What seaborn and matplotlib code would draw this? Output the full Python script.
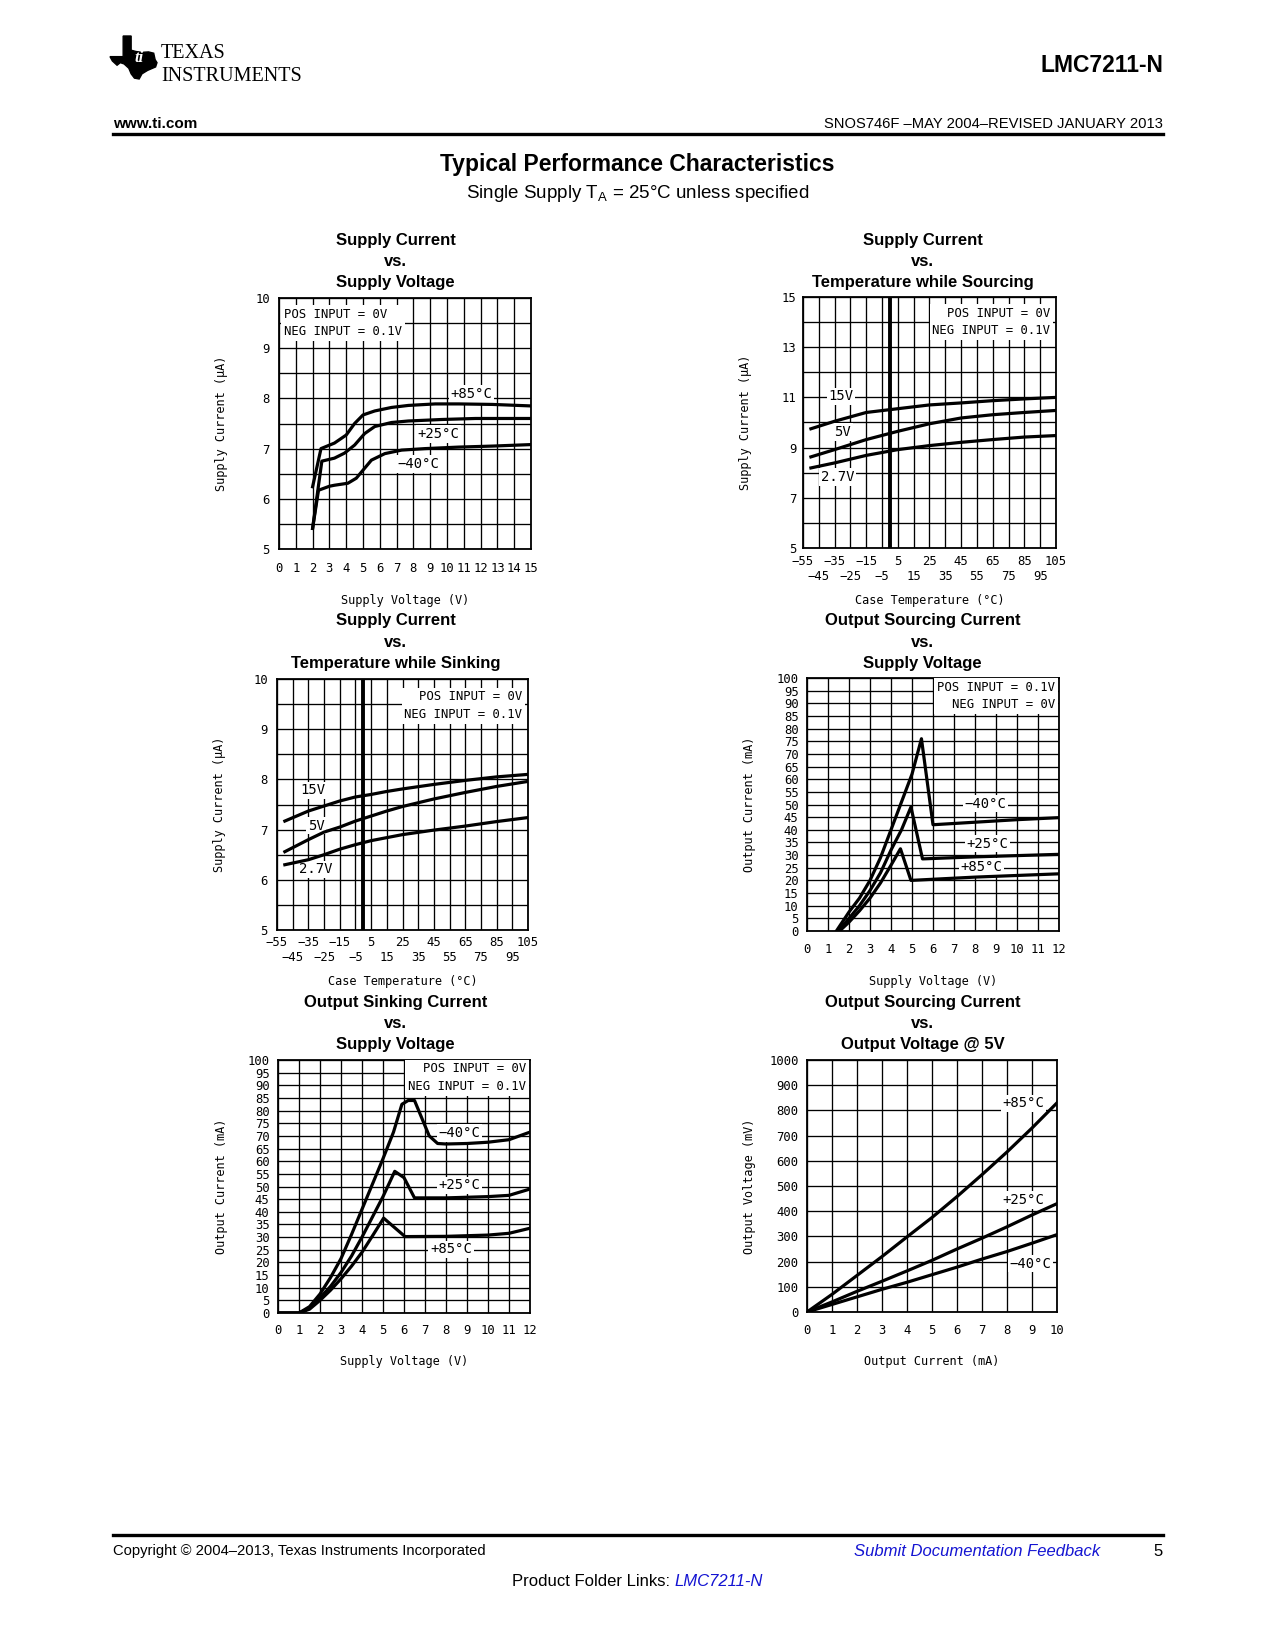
import matplotlib
matplotlib.use("Agg")
import matplotlib.pyplot as plt
import numpy as np
import pandas as pd
import seaborn as sns
from matplotlib.patches import Polygon
from matplotlib.lines import Line2D

W, H, DPI = 1275, 1650, 100
MONO = "DejaVu Sans Mono"
SANS = "Liberation Sans"

# ---------------- data ----------------
# Chart 1: Supply Current vs Supply Voltage
c1_v_p85 = [2.0, 2.5, 3.3, 4.0, 4.5, 5.0, 5.7, 6.7, 7.7, 9.3, 10.7, 12.7, 15.0]
c1_i_p85 = [6.24, 7.0, 7.11, 7.27, 7.5, 7.67, 7.75, 7.82, 7.86, 7.89, 7.89, 7.88, 7.85]
c1_v_p25 = [2.0, 2.55, 3.3, 3.9, 4.5, 5.1, 5.7, 6.7, 7.7, 9.7, 11.7, 15.0]
c1_i_p25 = [5.41, 6.75, 6.81, 6.91, 7.07, 7.3, 7.44, 7.52, 7.55, 7.58, 7.6, 7.6]
c1_v_m40 = [2.0, 2.35, 3.0, 3.3, 4.1, 4.6, 5.0, 5.5, 6.3, 7.3, 8.7, 10.7, 12.7, 15.0]
c1_i_m40 = [5.41, 6.17, 6.25, 6.27, 6.31, 6.41, 6.57, 6.77, 6.9, 6.97, 7.0, 7.03, 7.05, 7.08]

# Chart 2: Supply Current vs Temperature while Sourcing
c2_temp = [-50, -35, -15, 5, 25, 45, 65, 85, 105]
c2_15v = [9.75, 10.05, 10.4, 10.55, 10.7, 10.78, 10.87, 10.94, 11.0]
c2_5v = [8.63, 8.92, 9.32, 9.65, 9.95, 10.18, 10.31, 10.4, 10.48]
c2_27v = [8.19, 8.39, 8.69, 8.92, 9.08, 9.21, 9.32, 9.42, 9.48]

# Chart 3: Supply Current vs Temperature while Sinking
c3_temp = [-50, -35, -25, -15, -5, 5, 15, 25, 45, 65, 85, 105]
c3_15v = [7.17, 7.37, 7.47, 7.57, 7.65, 7.7, 7.76, 7.81, 7.9, 7.98, 8.05, 8.1]
c3_5v = [6.56, 6.8, 6.95, 7.05, 7.17, 7.27, 7.37, 7.46, 7.61, 7.74, 7.86, 7.96]
c3_27v = [6.3, 6.4, 6.5, 6.61, 6.7, 6.78, 6.84, 6.9, 6.99, 7.07, 7.16, 7.24]

# Chart 4: Output Sourcing Current vs Supply Voltage
c4_v_m40 = [1.4, 2.0, 2.5, 3.0, 3.5, 4.0, 4.5, 5.0, 5.45, 6.0, 8.0, 10.0, 12.0]
c4_i_m40 = [0, 7.5, 13, 20, 29, 40, 51, 62, 76, 42, 43, 44, 44.8]
c4_v_p25 = [1.5, 2.0, 2.5, 3.0, 3.5, 4.0, 4.5, 4.95, 5.5, 8.0, 10.0, 12.0]
c4_i_p25 = [0, 5, 10, 16, 23, 32, 40, 49, 28.5, 29.3, 29.8, 30.3]
c4_v_p85 = [1.55, 2.0, 2.5, 3.0, 3.5, 4.0, 4.45, 4.95, 8.0, 12.0]
c4_i_p85 = [0, 3.5, 8, 13, 19, 26, 32.5, 20, 21.3, 22.6]

# Chart 5: Output Sinking Current vs Supply Voltage
c5_v_m40 = [0, 1.0, 1.5, 2.0, 2.5, 3.0, 3.5, 4.0, 4.5, 5.0, 5.5, 5.9, 6.2, 6.5, 6.8, 7.2, 7.6, 8.0, 9.0, 10.0, 11.0, 12.0]
c5_i_m40 = [0, 0, 2.5, 7.5, 14, 21.5, 31, 41, 51, 61, 71.5, 82.5, 84, 84, 78, 70, 67, 66.8, 67, 67.5, 68.5, 71.5]
c5_v_p25 = [0, 1.0, 1.5, 2.0, 2.5, 3.0, 3.5, 4.0, 4.5, 5.0, 5.56, 6.0, 6.5, 8.0, 10.0, 11.0, 12.0]
c5_i_p25 = [0, 0, 2, 6, 10.5, 16, 22.5, 30, 38, 46, 56, 53.5, 45.5, 45.5, 46, 46.5, 49]
c5_v_p85 = [0, 1.0, 1.5, 2.0, 2.5, 3.0, 3.5, 4.0, 4.5, 5.03, 6.05, 8.0, 10.0, 11.0, 12.0]
c5_i_p85 = [0, 0, 1.5, 5, 9, 13.5, 18.5, 24, 30.5, 37.5, 30.2, 30.3, 30.8, 31.5, 33.5]

# Chart 6: Output Sourcing Current vs Output Voltage @ 5V
c6_ma = [0, 1, 2, 3, 4, 5, 6, 7, 8, 9, 10]
c6_mv_p85 = [0, 70, 145, 220, 298, 375, 458, 545, 635, 730, 830]
c6_mv_p25 = [0, 40, 82, 122, 163, 205, 250, 293, 338, 385, 430]
c6_mv_m40 = [0, 30, 60, 90, 118, 148, 178, 210, 240, 273, 307]

temp_row1 = [-55, -35, -15, 5, 25, 45, 65, 85, 105]
temp_row2 = [-45, -25, -5, 15, 35, 55, 75, 95]

# ---------------- figure ----------------
plt.rcParams["font.family"] = [SANS, "DejaVu Sans"]
fig = plt.figure(figsize=(W / DPI, H / DPI), dpi=DPI)
fig.patch.set_facecolor("white")

TICK = 8.8
AXL = 8.6


def ftext(x, y, s, **kw):
    return fig.text(x / W, 1 - y / H, s, **kw)


def hrule(x0, x1, y, lw):
    fig.add_artist(Line2D([x0 / W, x1 / W], [1 - y / H, 1 - y / H],
                          transform=fig.transFigure, color="black", lw=lw))


def make_axes(box):
    l, t, r, b = box
    return fig.add_axes([l / W, 1 - b / H, (r - l) / W, (b - t) / H])


def to_axes(box, px, py):
    l, t, r, b = box
    return (px - l) / (r - l), (b - py) / (b - t)


def neg(v):
    return str(v).replace("-", "\u2212")


def style(ax, xlim, ylim, xgrid, ygrid, xticks, yticks, xpad, ypad):
    ax.set_xlim(*xlim)
    ax.set_ylim(*ylim)
    if xgrid is not None:
        ax.set_xticks(xgrid, minor=True)
    ax.set_yticks(ygrid, minor=True)
    ax.set_xticks(xticks, labels=[neg(v) for v in xticks])
    ax.set_yticks(yticks, labels=[neg(v) for v in yticks])
    ax.grid(True, which="both", color="black", lw=0.95)
    ax.set_axisbelow(True)
    ax.tick_params(which="both", length=0, colors="black", labelsize=TICK,
                   labelfontfamily=MONO)
    ax.tick_params(axis="x", which="major", pad=xpad)
    ax.tick_params(axis="y", pad=ypad)
    for sp in ax.spines.values():
        sp.set_linewidth(1.3)
        sp.set_color("black")


def temp_axis(ax, pad1, pad2):
    ax.set_xticks(temp_row2, labels=[neg(v) for v in temp_row2], minor=True)
    ax.tick_params(axis="x", which="major", pad=pad1)
    ax.tick_params(axis="x", which="minor", pad=pad2, labelsize=TICK,
                   labelfontfamily=MONO, length=0)


def curve(ax, x, y):
    df = pd.DataFrame({"x": x, "y": y})
    sns.lineplot(data=df, x="x", y="y", ax=ax, color="black", lw=2.3,
                 sort=False, estimator=None, zorder=4)


def label(ax, x, y, s, ha="center", size=10):
    ax.text(x, y, s, ha=ha, va="center", fontfamily=MONO, fontsize=size,
            color="black", zorder=3,
            bbox=dict(facecolor="white", edgecolor="none", pad=1.2))


def legend_box(ax, x, y, s, ha):
    ax.text(x, y, s, ha=ha, va="center", multialignment=ha, linespacing=1.45,
            fontfamily=MONO, fontsize=8.8, color="black", zorder=3,
            bbox=dict(facecolor="white", edgecolor="none", pad=2.0))


def axis_labels(ax, box, xl, xy, yl, yx):
    l, t, r, b = box
    ax.set_xlabel(xl, fontfamily=MONO, fontsize=AXL, color="black")
    ax.xaxis.set_label_coords(*to_axes(box, (l + r) / 2, xy))
    ax.xaxis.label.set_va("center")
    ax.set_ylabel(yl, fontfamily=MONO, fontsize=AXL, color="black")
    ax.yaxis.set_label_coords(*to_axes(box, yx, (t + b) / 2))
    ax.yaxis.label.set_va("center")


def title(cx, ys, lines):
    for y, s in zip(ys, lines):
        ftext(cx, y, s, ha="center", va="center", fontsize=12,
              fontweight="bold", family=SANS)


LX, RX = 395.7, 922.5
TOPT = (240.5, 261.5, 283)
MIDT = (621, 642, 663.5)
BOTT = (1002, 1023.5, 1045)

# ---- Chart 1 ----
box1 = (279, 298, 531, 549)
ax1 = make_axes(box1)
style(ax1, (0, 15), (5, 10), np.arange(0, 16, 1), np.arange(5, 10.01, 0.5),
      list(range(16)), list(range(5, 11)), 9, 6.5)
curve(ax1, c1_v_p85, c1_i_p85)
curve(ax1, c1_v_p25, c1_i_p25)
curve(ax1, c1_v_m40, c1_i_m40)
label(ax1, 11.45, 8.09, "+85°C")
label(ax1, 9.5, 7.29, "+25°C")
label(ax1, 8.3, 6.69, "\u221240°C")
legend_box(ax1, 0.3, 9.5, "POS INPUT = 0V\nNEG INPUT = 0.1V", "left")
axis_labels(ax1, box1, "Supply Voltage (V)", 600.5, "Supply Current (\u03bcA)", 222)
title(LX, TOPT, ("Supply Current", "vs.", "Supply Voltage"))

# ---- Chart 2 ----
box2 = (803, 297, 1056, 548)
ax2 = make_axes(box2)
style(ax2, (-55, 105), (5, 15), None, np.arange(5, 15.01, 1),
      temp_row1, [5, 7, 9, 11, 13, 15], 6, 4.5)
temp_axis(ax2, 5.0, 15.5)
ax2.axvline(0, color="black", lw=2.8, zorder=2.5)
curve(ax2, c2_temp, c2_15v)
curve(ax2, c2_temp, c2_5v)
curve(ax2, c2_temp, c2_27v)
label(ax2, -31, 11.04, "15V")
label(ax2, -30, 9.62, "5V")
label(ax2, -33, 7.83, "2.7V")
legend_box(ax2, 101.5, 14.0, "POS INPUT = 0V\nNEG INPUT = 0.1V", "right")
axis_labels(ax2, box2, "Case Temperature (°C)", 600.5, "Supply Current (\u03bcA)", 746)
title(RX, TOPT, ("Supply Current", "vs.", "Temperature while Sourcing"))

# ---- Chart 3 ----
box3 = (277, 679, 528, 930)
ax3 = make_axes(box3)
style(ax3, (-55, 105), (5, 10), None, np.arange(5, 10.01, 0.5),
      temp_row1, list(range(5, 11)), 5, 6.5)
temp_axis(ax3, 4.3, 14.8)
ax3.axvline(0, color="black", lw=2.8, zorder=2.5)
curve(ax3, c3_temp, c3_15v)
curve(ax3, c3_temp, c3_5v)
curve(ax3, c3_temp, c3_27v)
label(ax3, -32, 7.78, "15V")
label(ax3, -30, 7.08, "5V")
label(ax3, -30, 6.21, "2.7V")
legend_box(ax3, 101.4, 9.47, "POS INPUT = 0V\nNEG INPUT = 0.1V", "right")
axis_labels(ax3, box3, "Case Temperature (°C)", 981.5, "Supply Current (\u03bcA)", 219)
title(LX, MIDT, ("Supply Current", "vs.", "Temperature while Sinking"))

# ---- Chart 4 ----
box4 = (807, 678, 1059, 931)
ax4 = make_axes(box4)
style(ax4, (0, 12), (0, 100), np.arange(0, 13, 1), np.arange(0, 101, 5),
      list(range(13)), list(range(0, 101, 5)), 8.3, 6)
curve(ax4, c4_v_m40, c4_i_m40)
curve(ax4, c4_v_p25, c4_i_p25)
curve(ax4, c4_v_p85, c4_i_p85)
label(ax4, 8.5, 50.3, "\u221240°C")
label(ax4, 8.6, 34.5, "+25°C")
label(ax4, 8.3, 25.3, "+85°C")
legend_box(ax4, 11.8, 92.9, "POS INPUT = 0.1V\nNEG INPUT = 0V", "right")
axis_labels(ax4, box4, "Supply Voltage (V)", 981.5, "Output Current (mA)", 749)
title(RX, MIDT, ("Output Sourcing Current", "vs.", "Supply Voltage"))

# ---- Chart 5 ----
box5 = (278, 1060, 530, 1313)
ax5 = make_axes(box5)
style(ax5, (0, 12), (0, 100), np.arange(0, 13, 1), np.arange(0, 101, 5),
      list(range(13)), list(range(0, 101, 5)), 8.0, 6)
curve(ax5, c5_v_m40, c5_i_m40)
curve(ax5, c5_v_p25, c5_i_p25)
curve(ax5, c5_v_p85, c5_i_p85)
label(ax5, 8.63, 71.1, "\u221240°C")
label(ax5, 8.63, 50.5, "+25°C")
label(ax5, 8.24, 25.2, "+85°C")
legend_box(ax5, 11.8, 93.0, "POS INPUT = 0V\nNEG INPUT = 0.1V", "right")
axis_labels(ax5, box5, "Supply Voltage (V)", 1362, "Output Current (mA)", 221)
title(LX, BOTT, ("Output Sinking Current", "vs.", "Supply Voltage"))

# ---- Chart 6 ----
box6 = (807, 1060, 1057, 1312)
ax6 = make_axes(box6)
style(ax6, (0, 10), (0, 1000), np.arange(0, 11, 1), np.arange(0, 1001, 100),
      list(range(11)), list(range(0, 1001, 100)), 8.5, 6)
curve(ax6, c6_ma, c6_mv_p85)
curve(ax6, c6_ma, c6_mv_p25)
curve(ax6, c6_ma, c6_mv_m40)
label(ax6, 8.67, 828, "+85°C")
label(ax6, 8.67, 444, "+25°C")
label(ax6, 8.93, 192, "\u221240°C")
axis_labels(ax6, box6, "Output Current (mA)", 1362, "Output Voltage (mV)", 750)
title(RX, BOTT, ("Output Sourcing Current", "vs.", "Output Voltage @ 5V"))

# ---------------- page header ----------------
tx = [(0.28, 0.0), (0.45, 0.0), (0.45, 0.33), (0.55, 0.36), (0.68, 0.38), (0.82, 0.37),
      (0.93, 0.40), (0.96, 0.55), (1.0, 0.62), (0.97, 0.72), (0.80, 0.80), (0.68, 0.88),
      (0.62, 1.0), (0.52, 0.98), (0.45, 0.88), (0.40, 0.75), (0.30, 0.65), (0.22, 0.62),
      (0.15, 0.68), (0.05, 0.58), (0.0, 0.48), (0.28, 0.48)]
lx0, ly0, lw_, lh_ = 110, 36, 47, 43
pts = [((lx0 + u * lw_) / W, 1 - (ly0 + v * lh_) / H) for u, v in tx]
fig.add_artist(Polygon(pts, closed=True, transform=fig.transFigure,
                       facecolor="black", edgecolor="black"))
ftext(139, 58, "ti", ha="center", va="center", color="white", fontsize=12,
      fontweight="bold", style="italic", family="Liberation Serif")

ftext(161, 58.5, "TEXAS", ha="left", va="baseline", fontsize=14.5,
      family="Liberation Serif")
ftext(161, 81, "INSTRUMENTS", ha="left", va="baseline", fontsize=14.5,
      family="Liberation Serif")

ftext(1163, 65, "LMC7211-N", ha="right", va="center", fontsize=16.5, fontweight="bold",
      family=SANS)
ftext(113, 124, "www.ti.com", ha="left", va="center", fontsize=11, fontweight="bold")
ftext(1163, 124, "SNOS746F \u2013MAY 2004\u2013REVISED JANUARY 2013", ha="right",
      va="center", fontsize=10.6)
hrule(113, 1163, 133.5, 2.4)

ftext(637.5, 164, "Typical Performance Characteristics", ha="center", va="center",
      fontsize=16.5, fontweight="bold")
ftext(637.5, 193.5, r"Single Supply T$_\mathregular{A}$ = 25°C unless specified",
      ha="center", va="center", fontsize=13.5)

# ---------------- page footer ----------------
hrule(113, 1163, 1535, 2.4)
ftext(113, 1551, "Copyright \u00a9 2004\u20132013, Texas Instruments Incorporated",
      ha="left", va="center", fontsize=10.6)
ftext(1100, 1551, "Submit Documentation Feedback", ha="right", va="center",
      fontsize=12, style="italic", color="#1414d2")
ftext(1163, 1551, "5", ha="right", va="center", fontsize=12)
ftext(670, 1581, "Product Folder Links:", ha="right", va="center", fontsize=12)
ftext(674, 1581, "LMC7211-N", ha="left", va="center", fontsize=12, style="italic",
      color="#1414d2")

fig.savefig("out.png", dpi=DPI, facecolor="white")
